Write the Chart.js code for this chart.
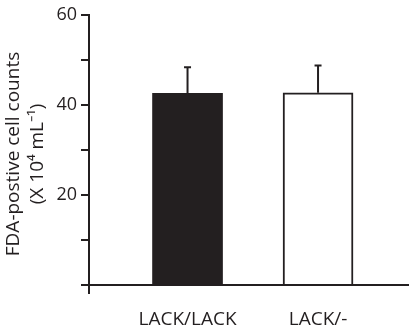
<!DOCTYPE html>
<html>
<head>
<meta charset="utf-8">
<script src="https://cdn.jsdelivr.net/npm/chart.js@4"></script>
<style>
html,body{margin:0;padding:0;background:#fff;}
#wrap{width:409px;height:331px;}
</style>
</head>
<body>
<div id="wrap"><canvas id="c" width="409" height="331"></canvas></div>
<script>
const categories = ['LACK/LACK', 'LACK/-'];
const values = [42.6, 42.7];
const errors = [5.8, 6.1];
const fills = ['#231f20', '#ffffff'];
const yTickLabels = [20, 40, 60];

const INK = '#231f20';
const FONT = '"Open Sans", "Liberation Sans", sans-serif';

const errorBarPlugin = {
  id: 'errorBars',
  afterDatasetsDraw(chart) {
    const ctx = chart.ctx;
    const xs = chart.scales.x, ys = chart.scales.y;
    ctx.save();
    ctx.strokeStyle = INK;
    ctx.lineWidth = 2;
    values.forEach((v, i) => {
      const x = xs.getPixelForValue(i + 1);
      const y0 = ys.getPixelForValue(v);
      const y1 = ys.getPixelForValue(v + errors[i]);
      ctx.beginPath();
      ctx.moveTo(x, y0);
      ctx.lineTo(x, y1);
      ctx.moveTo(x - 3.5, y1);
      ctx.lineTo(x + 3.5, y1);
      ctx.stroke();
    });
    ctx.restore();
  }
};

new Chart(document.getElementById('c'), {
  type: 'bar',
  data: {
    datasets: [{
      data: values.map((v, i) => ({x: i + 1, y: v})),
      backgroundColor: fills,
      borderColor: INK,
      borderWidth: [0, 2],
      borderSkipped: 'start',
      barThickness: 70
    }]
  },
  options: {
    responsive: false,
    animation: false,
    devicePixelRatio: 1,
    layout: {padding: {top: 15, right: 0, bottom: 0, left: 0}},
    plugins: {legend: {display: false}, tooltip: {enabled: false}},
    scales: {
      x: {
        type: 'linear',
        offset: false,
        min: 0.245,
        max: 2.697,
        grid: {display: false, drawTicks: false},
        border: {display: false},
        afterBuildTicks: s => { s.ticks = categories.map((c, i) => ({value: i + 1})); },
        afterFit: s => { s.height = 38; },
        ticks: {
          autoSkip: false,
          maxRotation: 0,
          padding: 15,
          color: INK,
          font: {family: FONT, size: 19},
          callback: v => categories[v - 1] || ''
        }
      },
      y: {
        min: -1.8,
        max: 60,
        afterBuildTicks: s => {
          const t = [];
          for (let v = 0; v <= 60; v += 10) t.push({value: v});
          s.ticks = t;
        },
        afterFit: s => { s.width = 89; },
        grid: {
          color: c => (c.tick && c.tick.value === 0) ? INK : 'rgba(0,0,0,0)',
          lineWidth: 2,
          tickColor: INK,
          tickWidth: 2,
          tickLength: 8
        },
        border: {display: true, color: INK, width: 2},
        ticks: {
          padding: 4,
          color: INK,
          font: {family: FONT, size: 18},
          callback: v => yTickLabels.includes(v) ? String(v) : ''
        },
        title: {
          display: true,
          text: ['FDA-postive cell counts', '(X 10\u2074 mL\u207B\u00B9)'],
          color: INK,
          font: {family: FONT, size: 19, lineHeight: 1.26},
          padding: {top: 2, bottom: 0}
        }
      }
    }
  },
  plugins: [errorBarPlugin]
});
</script>
</body>
</html>
